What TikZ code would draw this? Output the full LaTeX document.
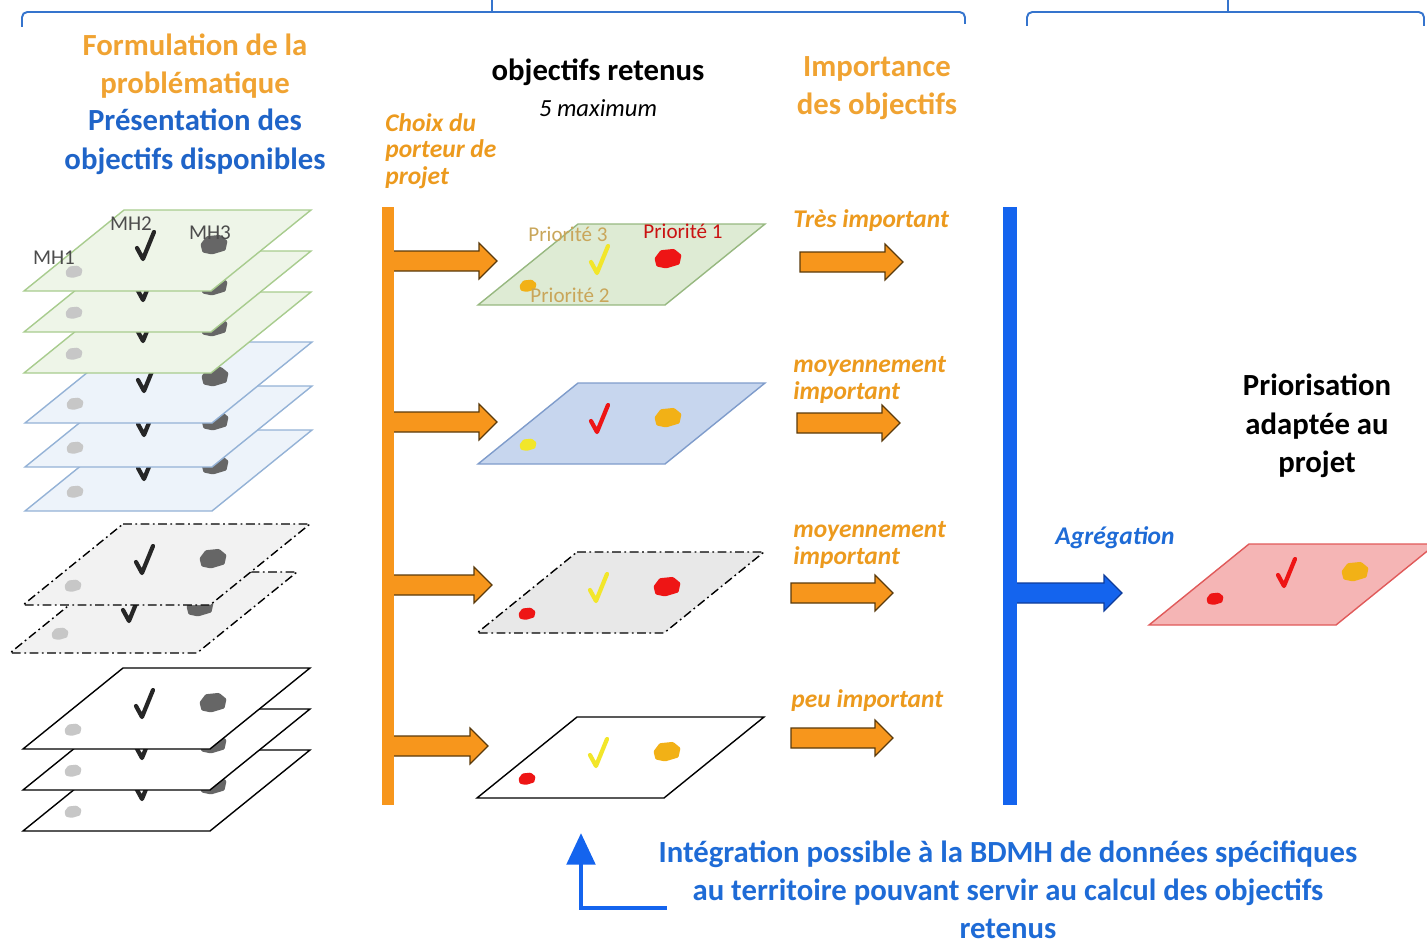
\documentclass[tikz,border=0pt]{standalone}
\usepackage{fontspec}
\setmainfont{Carlito}
\usepackage{xcolor}
\usepackage{tikz}
\usetikzlibrary{arrows.meta,positioning,calc}

\definecolor{orangeT}{HTML}{F0A332}
\definecolor{orangeI}{HTML}{EC9A1E}
\definecolor{orangeF}{HTML}{F7961C}
\definecolor{brunF}{HTML}{5A3A0C}
\definecolor{bleuT}{HTML}{1F64C8}
\definecolor{bleuI}{HTML}{1E6BD6}
\definecolor{bleuB}{HTML}{1464EE}
\definecolor{bleuF}{HTML}{0E3C9A}
\definecolor{kaki}{HTML}{C9A65A}
\definecolor{rouge}{HTML}{EE1515}
\definecolor{jaune}{HTML}{F2E62A}
\definecolor{orangeM}{HTML}{F2B116}
\definecolor{vertclair}{HTML}{EEF5E8}
\definecolor{vertbord}{HTML}{A8CC8E}
\definecolor{bleuclair}{HTML}{EDF3FA}
\definecolor{bleubord}{HTML}{94B2D6}
\definecolor{vertmoyen}{HTML}{DEEBD4}
\definecolor{bleumoyen}{HTML}{C7D6EE}
\definecolor{bleumbord}{HTML}{7F9CCB}
\definecolor{rose}{HTML}{F5B5B5}
\definecolor{rosebord}{HTML}{E05A5A}

\tikzset{
  titre/.style={font=\fontsize{17.5}{22}\selectfont\bfseries, align=center},
  etiquette/.style={font=\fontsize{14.5}{15}\selectfont\bfseries\itshape, text=orangeI, align=left, inner sep=0pt},
  prio/.style={font=\fontsize{12}{14}\selectfont, inner sep=0pt},
  mh/.style={font=\fontsize{12}{14}\selectfont, text=black!70, inner sep=0pt},
  accolade/.style={draw=bleuT!90, line width=1.1pt},
  planvert/.style={fill=vertclair, draw=vertbord, line width=0.8pt},
  planbleu/.style={fill=bleuclair, draw=bleubord, line width=0.8pt},
  plangris/.style={fill=black!5, draw=black, line width=0.8pt, dash pattern=on 5pt off 2pt on 1pt off 2pt},
  planblanc/.style={fill=white, draw=black, line width=0.8pt},
  coche/.style={line width=2.4pt, line cap=round, line join=round},
  flecheorange/.style={fill=orangeF, draw=brunF, line width=0.7pt},
  flechebleue/.style={fill=bleuB, draw=bleuF, line width=0.7pt},
}

% parallelogramme : coin haut gauche, style
\newcommand{\plan}[3]{\filldraw[#3] (#1,#2) -- ++(187,0) -- ++(-100,81) -- ++(-187,0) -- cycle;}
% tache : centre, taille, couleur
\newcommand{\tache}[4]{\fill[#4, shift={(#1,#2)}, scale=#3, rounded corners=0.6pt]
  (-1,-0.05) -- (-0.55,-0.65) -- (0.45,-0.75) -- (1,-0.3) -- (0.85,0.4) -- (-0.15,0.7) -- (-0.85,0.55) -- cycle;}
\newcommand{\coche}[3]{\draw[coche, #3, shift={(#1,#2)}] (-8,1) -- (-2,12) -- (9,-15);}
% trois objets sur une couche
\newcommand{\marques}[5]{%
  \tache{#1-50}{#2+62}{8.5}{#3}
  \coche{#1+21}{#2+37}{#4}
  \tache{#1+90}{#2+35}{13.5}{#5}}
\newcommand{\couche}[3]{\plan{#1}{#2}{#3}\marques{#1}{#2}{black!22}{draw=black!85}{black!60}}
% fleche epaisse horizontale
\newcommand{\fleche}[3]{\filldraw[#3] ($(#1)+(0,-10)$) -- ($(#2)+(-18,-10)$) -- ($(#2)+(-18,-18)$) -- (#2)
  -- ($(#2)+(-18,18)$) -- ($(#2)+(-18,10)$) -- ($(#1)+(0,10)$) -- cycle;}

\begin{document}
\begin{tikzpicture}[x=0.02cm, y=-0.02cm]
\useasboundingbox (0,0) rectangle (1427,946);

% accolades du haut
\draw[accolade, rounded corners=3pt] (22,27) |- (965,12) -- (965,24);
\draw[accolade] (492,12) -- (492,0);
\draw[accolade, rounded corners=3pt] (1027,26) |- (1424,12) -- (1424,26);
\draw[accolade] (1228,12) -- (1228,0);

% titres
\node[titre, text=orangeT] (formulation) at (195,66) {Formulation de la\\problématique};
\node[titre, text=bleuT] (presentation) at (195,142) {Présentation des\\objectifs disponibles};
\node[etiquette, anchor=west] (choix) at (385,151) {Choix du\\porteur de\\projet};
\node[titre] (retenus) at (598,72) {objectifs retenus};
\node[font=\fontsize{14}{16}\selectfont\itshape] (maximum) at (598,108) {5 maximum};
\node[titre, text=orangeT] (importance) at (877,88) {Importance\\des objectifs};

% couches disponibles (du bas vers le haut)
\foreach \y in {750,709,668} {\couche{123}{\y}{planblanc}}
\couche{110}{572}{plangris}
\couche{123}{524}{plangris}
\foreach \y in {430,386,342} {\couche{125}{\y}{planbleu}}
\foreach \y in {292,251,210} {\couche{124}{\y}{planvert}}
\node[mh] (mh1) at (54,258) {MH1};
\node[mh] (mh2) at (131,224) {MH2};
\node[mh] (mh3) at (210,233) {MH3};

% objectifs retenus
\plan{578}{224}{fill=vertmoyen, draw=vertbord!90!black, line width=0.8pt}
\marques{578}{224}{orangeM}{draw=jaune}{rouge}
\plan{578}{383}{fill=bleumoyen, draw=bleumbord, line width=0.8pt}
\marques{578}{383}{jaune}{draw=rouge}{orangeM}
\plan{577}{552}{plangris, fill=black!9}
\marques{577}{552}{rouge}{draw=jaune}{rouge}
\plan{577}{717}{planblanc}
\marques{577}{717}{rouge}{draw=jaune}{orangeM}
\node[prio, text=kaki] (prio3) at (568,234) {Priorité 3};
\node[prio, text=rouge!85!black] (prio1) at (683,231) {Priorité 1};
\node[prio, text=kaki] (prio2) at (570,295) {Priorité 2};

% choix du porteur de projet
\coordinate (bo1) at (388,207);
\coordinate (bo2) at (388,805);
\coordinate (c1) at (390,261);  \coordinate (c1b) at (497,261);
\coordinate (c2) at (390,422);  \coordinate (c2b) at (497,422);
\coordinate (c3) at (390,585);  \coordinate (c3b) at (492,585);
\coordinate (c4) at (390,746);  \coordinate (c4b) at (488,746);
\foreach \i in {1,...,4} {\fleche{c\i}{c\i b}{flecheorange}}
\draw[orangeF, line width=6.5pt] (bo1) -- (bo2);

% importance des objectifs
\node[etiquette, anchor=west] (imp1) at (793,221) {Très important};
\node[etiquette, anchor=west] (imp2) at (793,380) {moyennement\\important};
\node[etiquette, anchor=west] (imp3) at (793,545) {moyennement\\important};
\node[etiquette, anchor=west] (imp4) at (791,701) {peu important};
\coordinate (i1) at (800,262);  \coordinate (i1b) at (903,262);
\coordinate (i2) at (797,423);  \coordinate (i2b) at (900,423);
\coordinate (i3) at (791,593);  \coordinate (i3b) at (893,593);
\coordinate (i4) at (791,738);  \coordinate (i4b) at (893,738);
\foreach \i in {1,...,4} {\fleche{i\i}{i\i b}{flecheorange}}

% agregation
\coordinate (bb1) at (1010,207);
\coordinate (bb2) at (1010,805);
\coordinate (ag) at (1014,593);  \coordinate (agb) at (1122,593);
\fleche{ag}{agb}{flechebleue}
\draw[bleuB, line width=8pt] (bb1) -- (bb2);
\node[etiquette, text=bleuI] (agregation) at (1115,538) {Agrégation};

% priorisation finale
\node[titre] (priorisation) at (1317,426) {Priorisation\\adaptée au\\projet};
\plan{1249}{544}{fill=rose, draw=rosebord, line width=0.8pt}
\marques{1265}{537}{rouge}{draw=rouge}{orangeM}

% integration de donnees
\node[titre, text=bleuI, inner sep=0pt, font=\fontsize{17.5}{21.5}\selectfont\bfseries] (integration) at (1008,890) {Intégration possible à la BDMH de données spécifiques\\au territoire pouvant servir au calcul des objectifs\\retenus};
\coordinate (retour) at (667,908);
\coordinate (coude) at (581,908);
\coordinate (cible) at (581,833);
\draw[bleuB, line width=2.8pt, -{Triangle[length=18pt, width=16pt]}] (retour) -- (coude) -- (cible);
\end{tikzpicture}
\end{document}
